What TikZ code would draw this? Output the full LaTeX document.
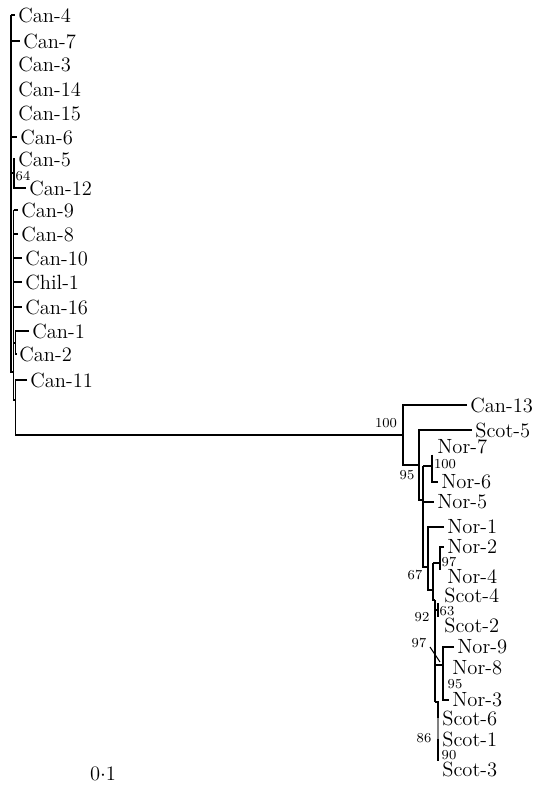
\documentclass[tikz,border=0pt]{standalone}
\usepackage{tikz}
\usetikzlibrary{calc}
\usepackage{xcolor}

\begin{document}
\begin{tikzpicture}[x=0.02cm, y=-0.02cm,
  branch/.style={line width=0.6pt},
  stem/.style={line width=1.3pt},
  leaf/.style={anchor=west, inner xsep=0.06cm, inner ysep=0pt, font=\fontsize{11.7}{14}\selectfont},
  boot/.style={inner sep=0pt, font=\fontsize{7.8}{9}\selectfont}]
  \useasboundingbox (0,0) rectangle (538,786);

  % leaves, Canadian group
  \node[leaf] (can4) at (15,15) {Can-4};
  \node[leaf] (can7) at (20,41) {Can-7};
  \node[leaf] (can3) at (15,64) {Can-3};
  \node[leaf] (can14) at (15,89) {Can-14};
  \node[leaf] (can15) at (15,113) {Can-15};
  \node[leaf] (can6) at (17,137) {Can-6};
  \node[leaf] (can5) at (15,159) {Can-5};
  \node[leaf] (can12) at (26,188) {Can-12};
  \node[leaf] (can9) at (18,210) {Can-9};
  \node[leaf] (can8) at (18,234) {Can-8};
  \node[leaf] (can10) at (22,258) {Can-10};
  \node[leaf] (chil1) at (22,282) {Chil-1};
  \node[leaf] (can16) at (22,307) {Can-16};
  \node[leaf] (can1) at (29,331) {Can-1};
  \node[leaf] (can2) at (16,354) {Can-2};
  \node[leaf] (can11) at (27,380) {Can-11};

  % leaves, Norwegian and Scottish group
  \node[leaf] (can13) at (467,405) {Can-13};
  \node[leaf] (scot5) at (472,430) {Scot-5};
  \node[leaf] (nor7) at (434,447) {Nor-7};
  \node[leaf] (nor6) at (438,482) {Nor-6};
  \node[leaf] (nor5) at (434,502) {Nor-5};
  \node[leaf] (nor1) at (444,527) {Nor-1};
  \node[leaf] (nor2) at (444,547) {Nor-2};
  \node[leaf] (nor4) at (444,577) {Nor-4};
  \node[leaf] (scot4) at (441,595) {Scot-4};
  \node[leaf] (scot2) at (441,625) {Scot-2};
  \node[leaf] (nor9) at (454,647) {Nor-9};
  \node[leaf] (nor8) at (449,668) {Nor-8};
  \node[leaf] (nor3) at (449,700) {Nor-3};
  \node[leaf] (scot6) at (439,718) {Scot-6};
  \node[leaf] (scot1) at (439,739) {Scot-1};
  \node[leaf] (scot3) at (439,769) {Scot-3};

  % internal nodes
  \coordinate (cTop) at (11,15);
  \coordinate (cBot) at (11,372);
  \coordinate (cIn) at (13.5,210);
  \coordinate (cInBot) at (13.5,400);
  \coordinate (c64) at (14,173);
  \coordinate (c12) at (15.5,343);
  \coordinate (cRoot) at (15.5,400);
  \coordinate (cA) at (403,435);
  \coordinate (cB) at (419,465);
  \coordinate (cC) at (423,500);
  \coordinate (c100) at (432,466);
  \coordinate (cD) at (428,567);
  \coordinate (cE) at (433,590);
  \coordinate (cF) at (435,600);
  \coordinate (c97) at (440,563);
  \coordinate (c63) at (438,610);
  \coordinate (cG) at (443,665);
  \coordinate (cS) at (438,702);
  \coordinate (k1) at (430,647);
  \coordinate (k2) at (440,662);

  % Canadian group
  \draw[branch] (cTop) -- (cBot) -- (cBot -| cIn);
  \draw[branch] (cIn) -- (cInBot) -- (cRoot);
  \draw[branch] (cTop) -- (can4.west);
  \draw[branch] (cTop |- can7) -- (can7.west);
  \draw[branch] (cTop |- can6) -- (can6.west);
  \draw[branch] (cTop |- c64) -- (c64);
  \draw[branch] (can5.west) -| (c64) |- (can12.west);
  \draw[branch] (cIn) -- (can9.west);
  \draw[branch] (cIn |- can8) -- (can8.west);
  \draw[branch] (cIn |- can10) -- (can10.west);
  \draw[branch] (cIn |- chil1) -- (chil1.west);
  \draw[branch] (cIn |- can16) -- (can16.west);
  \draw[branch] (cIn |- c12) -- (c12);
  \draw[branch] (can1.west) -| (c12) |- (can2.west);
  \draw[branch] (can11.west) -| (cRoot) |- (cA);

  % Norwegian and Scottish group
  \draw[branch] (can13.west) -| (cA) |- (cB);
  \draw[branch] (scot5.west) -| (cB) |- (cC);
  \draw[branch] (cC |- c100) -- (cC |- cD) -- (cD);
  \draw[branch] (cC |- c100) -- (c100);
  \draw[branch] (cC |- nor5) -- (nor5.west);
  \draw[branch] (c100 |- nor7.south) -- (c100 |- nor6) -- (nor6.west);
  \draw[branch] (nor1.west) -| (cD) |- (cE);
  \draw[branch] (cE |- c97) -- (cE |- cF) -- (cF);
  \draw[branch] (cE |- c97) -- (c97);
  \draw[branch] (nor2.west) -| (c97) -- (c97 |- nor4.north);
  \draw[stem] (cF) -- (cF |- cS);
  \draw[branch] (cF |- c63) -- (c63);
  \draw[branch] (c63 |- scot4.south) -- (c63 |- scot2.north);
  \draw[branch] (cF |- cG) -- (cG);
  \draw[branch] (nor9.west) -| (cG) |- (nor3.west);
  \draw[branch] (k1) -- (k2);
  \draw[branch] (cF |- cS) -- (cS) -- (cS |- scot3.north);
  \draw[stem, gray] (cS |- scot6) -- (cS |- scot1);

  % bootstrap values
  \node[boot] (b64) at (23,176) {64};
  \node[boot] (b100a) at (386,423) {100};
  \node[boot] (b95a) at (407,475) {95};
  \node[boot] (b100b) at (445,464) {100};
  \node[boot] (b67) at (415,575) {67};
  \node[boot] (b97a) at (449,562) {97};
  \node[boot] (b63) at (447,611) {63};
  \node[boot] (b92) at (422,617) {92};
  \node[boot] (b97b) at (419,643) {97};
  \node[boot] (b95b) at (455,684) {95};
  \node[boot] (b86) at (424,738) {86};
  \node[boot] (b90) at (449,755) {90};

  % scale
  \node[inner sep=0pt, font=\fontsize{11.7}{14}\selectfont] (scale) at (103,774) {0$\cdot$1};
\end{tikzpicture}
\end{document}
